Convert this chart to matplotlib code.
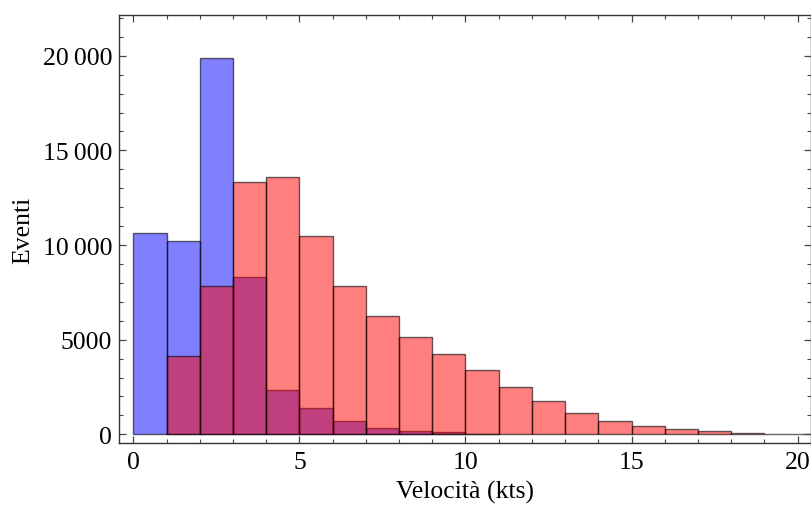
import numpy as np
import matplotlib.pyplot as plt
from matplotlib.ticker import MultipleLocator, FuncFormatter

# bin edges (kts), width 1
blue_left = np.arange(0, 11)
blue_counts = [10620, 10210, 19860, 8290, 2340, 1405, 687, 333, 158, 105, 30]

red_left = np.arange(1, 21)
red_counts = [4120, 7820, 13310, 13580, 10460, 7820, 6250, 5120, 4260, 3380,
              2500, 1740, 1140, 687, 440, 264, 158, 85, 35, 25]

plt.rcParams['font.family'] = ['Liberation Serif', 'DejaVu Serif']

fig = plt.figure(figsize=(8.12, 5.10), dpi=100)
ax = fig.add_axes([0.1466, 0.1294, 0.852, 0.8392])

edge = (0, 0, 0, 0.6)
ax.bar(blue_left, blue_counts, width=1, align='edge',
       color=(0, 0, 1, 0.5), edgecolor=edge, linewidth=1)
ax.bar(red_left, red_counts, width=1, align='edge',
       color=(1, 0, 0, 0.5), edgecolor=edge, linewidth=1)

ax.set_xlim(-0.43, 20.4)
ax.set_ylim(-460, 22150)

ax.xaxis.set_major_locator(MultipleLocator(5))
ax.xaxis.set_minor_locator(MultipleLocator(1))
ax.yaxis.set_major_locator(MultipleLocator(5000))
ax.yaxis.set_minor_locator(MultipleLocator(1000))

def fmt(v, pos):
    v = int(round(v))
    if v >= 10000:
        return f"{v // 1000}\u2009{v % 1000:03d}"
    return str(v)

ax.yaxis.set_major_formatter(FuncFormatter(fmt))

ax.tick_params(which='both', direction='in', top=True, right=True,
               labelsize=18.5, color='#444444')
ax.tick_params(which='major', length=5, width=0.9)
ax.tick_params(which='minor', length=3, width=0.8)
ax.tick_params(axis='x', which='major', pad=6)
ax.tick_params(axis='y', which='major', pad=5)
for s in ax.spines.values():
    s.set_linewidth(1.0)
    s.set_color('#333333')

ax.set_xlabel('Velocità (kts)', fontsize=18.5, labelpad=5)
ax.set_ylabel('Eventi', fontsize=18.5, labelpad=6)

fig.savefig('out.png', dpi=100)
